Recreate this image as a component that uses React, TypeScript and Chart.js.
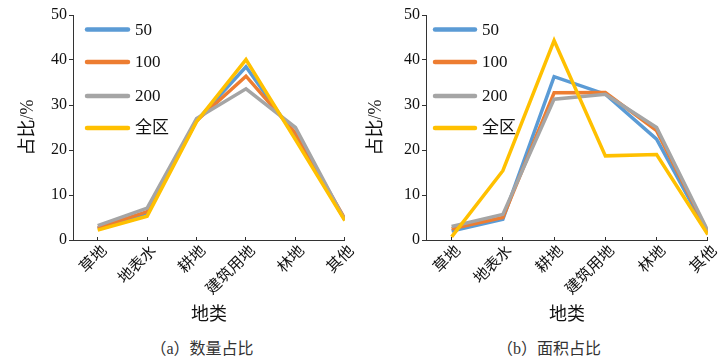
import React, { useEffect, useRef } from "react";
import { Chart, registerables } from "chart.js";

Chart.register(...registerables);

const categories = ["草地", "地表水", "耕地", "建筑用地", "林地", "其他"];
const seriesNames = ["50", "100", "200", "全区"];
const yTicks = [0, 10, 20, 30, 40, 50];

// (a) 数量占比
const countS50 = [2.5, 6.0, 26.5, 38.5, 23.0, 4.5];
const countS100 = [2.7, 6.3, 26.5, 36.4, 23.8, 4.7];
const countS200 = [3.2, 7.1, 27.0, 33.6, 25.0, 4.4];
const countAll = [2.2, 5.3, 26.3, 40.1, 22.3, 4.3];

// (b) 面积占比
const areaS50 = [2.0, 4.6, 36.3, 32.4, 22.4, 1.5];
const areaS100 = [2.5, 5.0, 32.7, 32.8, 24.3, 1.8];
const areaS200 = [3.0, 5.7, 31.3, 32.4, 25.0, 2.0];
const areaAll = [0.7, 15.4, 44.3, 18.7, 19.0, 1.2];

const colors = ["#5B9BD5", "#ED7D31", "#A5A5A5", "#FFC000"];
const FONT = "'Liberation Serif', 'Noto Sans CJK SC', serif";

const legendPlugin = {
  id: "sideLegend",
  afterDatasetsDraw(chart: any) {
    const o = chart.options.plugins.sideLegend;
    if (!o) return;
    const ctx = chart.ctx;
    ctx.save();
    chart.data.datasets.forEach((ds: any, i: number) => {
      const y = o.ys[i];
      ctx.beginPath();
      ctx.strokeStyle = ds.borderColor;
      ctx.lineWidth = 4.5;
      ctx.lineCap = "round";
      ctx.moveTo(o.x1, y);
      ctx.lineTo(o.x2, y);
      ctx.stroke();
      ctx.fillStyle = "#111";
      ctx.font = "17px " + FONT;
      ctx.textAlign = "left";
      ctx.textBaseline = "middle";
      ctx.fillText(ds.label, o.tx, y + 1);
    });
    ctx.restore();
  },
};

function LineChart(props: {
  series: number[][];
  padLeft: number;
  padRight: number;
  titlePad: number;
  legend: { x1: number; x2: number; tx: number; ys: number[] };
}) {
  const ref = useRef<HTMLCanvasElement>(null);
  useEffect(() => {
    if (!ref.current) return;
    const chart = new Chart(ref.current, {
      type: "line",
      data: {
        datasets: props.series.map((vals, i) => ({
          label: seriesNames[i],
          data: vals.map((v, j) => ({ x: j, y: v })),
          borderColor: colors[i],
          backgroundColor: colors[i],
          borderWidth: 3.5,
          pointRadius: 0,
          tension: 0,
          borderJoinStyle: "miter",
          order: 3 - i,
        })),
      },
      options: {
        animation: false,
        responsive: false,
        layout: { padding: { left: props.padLeft, right: props.padRight, top: 15, bottom: 0 } },
        plugins: {
          legend: { display: false },
          tooltip: { enabled: false },
          sideLegend: props.legend,
        } as any,
        scales: {
          x: {
            type: "linear",
            min: -0.5,
            max: 5,
            afterBuildTicks: (scale: any) => {
              scale.ticks = categories.map((_, i) => ({ value: i }));
            },
            afterFit: (scale: any) => {
              scale.height = 90;
            },
            ticks: {
              callback: (v: any) => categories[v] ?? "",
              autoSkip: false,
              minRotation: 45,
              maxRotation: 45,
              padding: 5,
              labelOffset: 7,
              color: "#111",
              font: { size: 15.5, family: FONT },
            },
            grid: { drawOnChartArea: false, tickLength: -3, color: "#333" },
            border: { color: "#333", width: 1 },
            title: {
              display: true,
              text: "地类",
              color: "#111",
              font: { size: 18, family: FONT },
              padding: { top: 0, bottom: 4 },
            },
          },
          y: {
            min: 0,
            max: 50,
            afterBuildTicks: (scale: any) => {
              scale.ticks = yTicks.map((v) => ({ value: v }));
            },
            afterFit: (scale: any) => {
              scale.width = 63;
            },
            ticks: {
              padding: 2,
              color: "#111",
              font: { size: 16, family: FONT },
            },
            grid: { drawOnChartArea: false, tickLength: 4, color: "#333" },
            border: { color: "#333", width: 1 },
            title: {
              display: true,
              text: "占比/%",
              color: "#111",
              font: { size: 18, family: FONT },
              padding: { top: props.titlePad, bottom: 0 },
            },
          },
        },
      } as any,
      plugins: [legendPlugin],
    });
    return () => chart.destroy();
  }, []);
  return <canvas ref={ref} width={363} height={330} style={{ display: "block", width: 363, height: 330 }} />;
}

const captionStyle: React.CSSProperties = {
  position: "absolute",
  top: 338,
  width: 200,
  textAlign: "center",
  fontSize: 16,
  lineHeight: "22px",
  fontFamily: FONT,
  color: "#333",
  whiteSpace: "nowrap",
};

export default function App() {
  return (
    <div style={{ position: "fixed", left: 0, top: 0, width: 726, height: 362, background: "#fff", overflow: "hidden" }}>
      <div style={{ position: "absolute", left: 0, top: 0 }}>
        <LineChart
          series={[countS50, countS100, countS200, countAll]}
          padLeft={10}
          padRight={11}
          titlePad={7}
          legend={{ x1: 87, x2: 128, tx: 135, ys: [29.5, 62, 96, 128] }}
        />
      </div>
      <div style={{ position: "absolute", left: 363, top: 0 }}>
        <LineChart
          series={[areaS50, areaS100, areaS200, areaAll]}
          padLeft={0}
          padRight={16}
          titlePad={2}
          legend={{ x1: 72, x2: 112, tx: 119, ys: [29.5, 62, 96, 128] }}
        />
      </div>
      <div style={{ ...captionStyle, left: 102 }}>（a）数量占比</div>
      <div style={{ ...captionStyle, left: 449 }}>（b）面积占比</div>
    </div>
  );
}
